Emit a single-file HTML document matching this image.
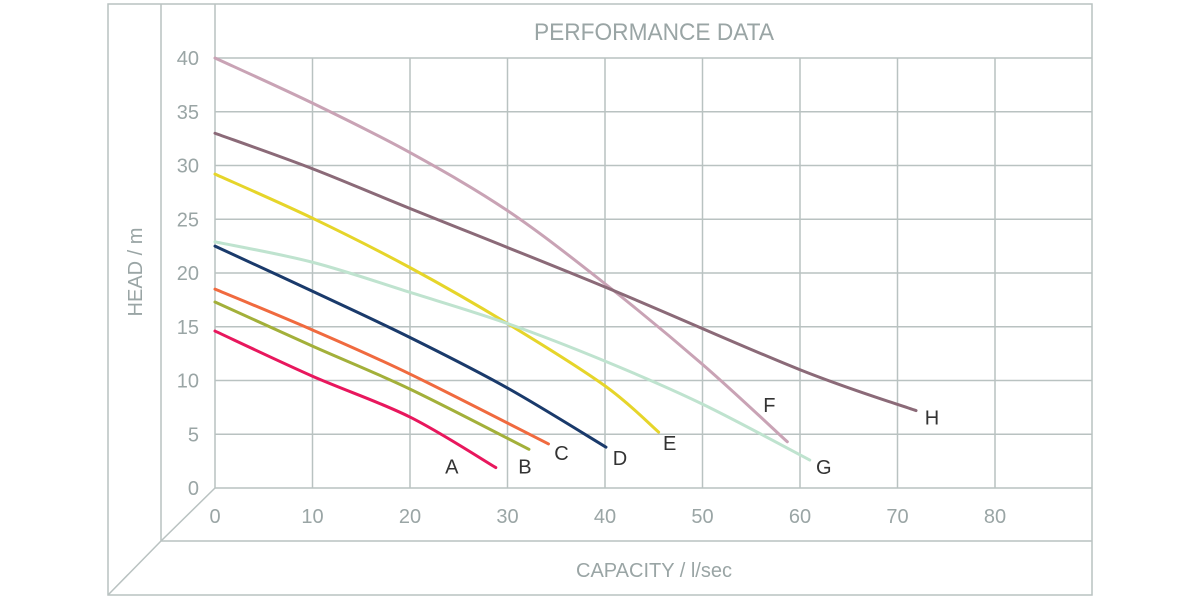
<!DOCTYPE html>
<html><head><meta charset="utf-8"><style>
html,body{margin:0;padding:0;background:#fff;}
svg{display:block;font-family:"Liberation Sans",sans-serif;}
</style></head><body>
<svg id="chart" width="1200" height="600" viewBox="0 0 1200 600">
<g id="frame" stroke="#b9c2c1" stroke-width="1.5" fill="none">
<rect x="108" y="4" width="984" height="591"/>
<line x1="161" y1="4" x2="161" y2="541"/>
<line x1="161" y1="541" x2="1092" y2="541"/>
<line x1="215" y1="488" x2="161" y2="541"/>
<line x1="161" y1="541" x2="108" y2="595"/>
<line x1="215" y1="4" x2="215" y2="488"/>
</g>
<g id="grid"></g>
<g id="ticks"></g>
<g id="series"></g>
<text x="654" y="40" text-anchor="middle" font-size="24" fill="#9aa5a5" textLength="240" lengthAdjust="spacingAndGlyphs">PERFORMANCE DATA</text>
<text x="654" y="577" text-anchor="middle" font-size="20" fill="#9aa5a5">CAPACITY / l/sec</text>
<text transform="translate(142,272) rotate(-90)" text-anchor="middle" font-size="20" fill="#9aa5a5">HEAD / m</text>
</svg>
<script>
const xTicks=[0,10,20,30,40,50,60,70,80];
const yTicks=[0,5,10,15,20,25,30,35,40];
const seriesNames=["A","B","C","D","E","F","G","H"];
const seriesColors=["#e8175d","#a3b03a","#f06a3f","#1a3a6b","#e6d52a","#c9a3b5","#bfe3cf","#8b6a78"];
const capA=[0,10,20,28.8]; const headA=[14.6,10.4,6.6,1.9];
const capB=[0,10,20,32.2]; const headB=[17.3,13.2,9.2,3.6];
const capC=[0,10,20,34.2]; const headC=[18.5,14.7,10.6,4.1];
const capD=[0,10,20,30,40.1]; const headD=[22.5,18.3,14.0,9.3,3.8];
const capE=[0,10,20,30,40,45.5]; const headE=[29.2,25.1,20.5,15.3,9.5,5.2];
const capF=[0,10,20,30,40,50,58.7]; const headF=[40,35.8,31.2,25.8,19,11.5,4.3];
const capG=[0,10,20,30,40,50,61]; const headG=[22.9,21,18.2,15.3,11.8,7.8,2.6];
const capH=[0,10,20,40,60,71.9]; const headH=[33,29.7,26,18.7,11,7.2];
const labelOffsets=[[-44,0],[-4,18],[13,10],[14,12],[11,12],[-18,-36],[14,8],[16,8]];
const caps=[capA,capB,capC,capD,capE,capF,capG,capH];
const heads=[headA,headB,headC,headD,headE,headF,headG,headH];
const NS="http://www.w3.org/2000/svg";
const X=v=>215+v*9.75, Y=h=>488-h*10.75;
const grid=document.getElementById('grid'), ticks=document.getElementById('ticks'), series=document.getElementById('series');
function mk(tag,attrs,parent){const e=document.createElementNS(NS,tag);for(const k in attrs)e.setAttribute(k,attrs[k]);parent.appendChild(e);return e;}
yTicks.forEach(t=>{
  const l=mk('line',{x1:215,x2:1092,y1:Y(t),y2:Y(t),stroke:'#b9c2c1','stroke-width':1.5},grid);
  
  
  const tx=mk('text',{x:199,y:Y(t)+7,'text-anchor':'end','font-size':20,fill:'#9aa5a5'},ticks);
  tx.textContent=t;
  
  
});
xTicks.forEach(t=>{
  if(t>0){const l=mk('line',{x1:X(t),x2:X(t),y1:Y(40),y2:Y(0),stroke:'#b9c2c1','stroke-width':1.5},grid);
  
  }
  const tx=mk('text',{x:X(t),y:523,'text-anchor':'middle','font-size':20,fill:'#9aa5a5'},ticks);
  tx.textContent=t;
  
  
});
function smooth(pts){
  let d='M'+pts[0][0]+','+pts[0][1];
  for(let i=0;i<pts.length-1;i++){
    const p0=pts[Math.max(0,i-1)],p1=pts[i],p2=pts[i+1],p3=pts[Math.min(pts.length-1,i+2)];
    const c1=[p1[0]+(p2[0]-p0[0])/6,p1[1]+(p2[1]-p0[1])/6];
    const c2=[p2[0]-(p3[0]-p1[0])/6,p2[1]-(p3[1]-p1[1])/6];
    d+=' C'+c1[0]+','+c1[1]+' '+c2[0]+','+c2[1]+' '+p2[0]+','+p2[1];
  }
  return d;
}
seriesNames.forEach((n,i)=>{
  const pts=caps[i].map((c,j)=>[X(c),Y(heads[i][j])]);
  const p=mk('path',{d:smooth(pts),fill:'none',stroke:seriesColors[i],'stroke-width':3,'stroke-linecap':'round'},series);
  
  
  const last=pts[pts.length-1];
  const t=mk('text',{x:last[0]+labelOffsets[i][0],y:last[1]+labelOffsets[i][1]+6,'text-anchor':'middle','font-size':20,fill:'#333'},series);
  t.textContent=n;
  
  
});
</script>
</body></html>
